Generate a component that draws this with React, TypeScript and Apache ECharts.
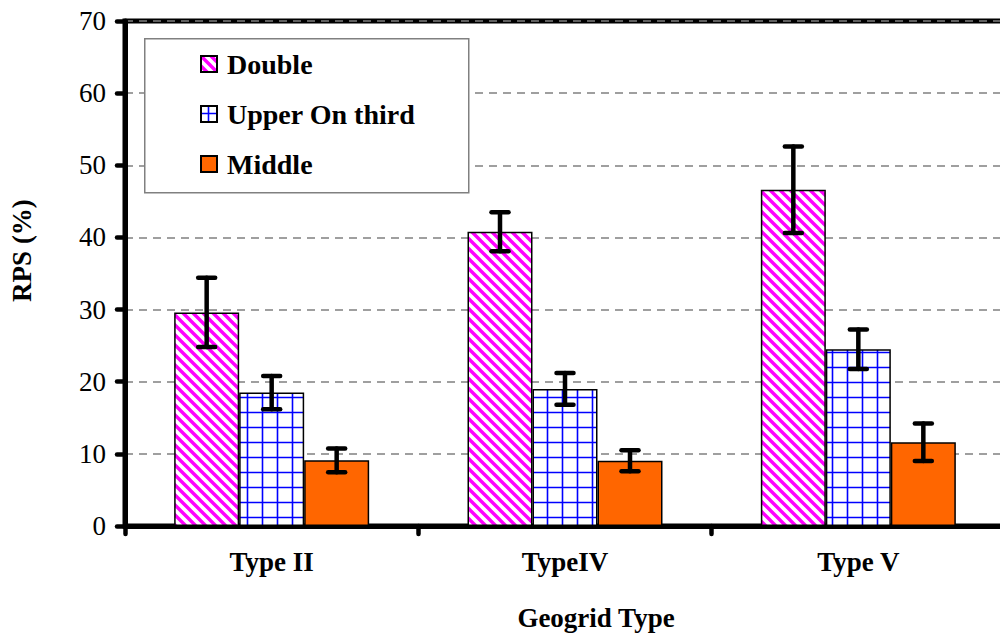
import React, { useEffect, useRef } from "react";
import * as echarts from "echarts";

const categories = ["Type II", "TypeIV", "Type V"];
const seriesNames = ["Double", "Upper On third", "Middle"];
const doubleVals = [29.6, 40.8, 46.6];
const doubleErr = [4.8, 2.7, 6.0];
const upperVals = [18.5, 19.0, 24.5];
const upperErr = [2.3, 2.2, 2.75];
const middleVals = [9.1, 9.05, 11.6];
const middleErr = [1.65, 1.45, 2.6];
const yTicks = [0, 10, 20, 30, 40, 50, 60, 70];

const FONT = "Liberation Serif";
const BAR_W = 65;

function svgUrl(svg: string) {
  return "data:image/svg+xml;charset=utf-8," + encodeURIComponent(svg);
}

const stripeSvg =
  "<svg xmlns='http://www.w3.org/2000/svg' width='10' height='10'>" +
  "<rect width='10' height='10' fill='#ffffff'/>" +
  "<path d='M-2,-2 L12,12 M8,-2 L12,2 M-2,8 L2,12' stroke='#FF00FF' stroke-width='3.4'/>" +
  "</svg>";

const gridSvg =
  "<svg xmlns='http://www.w3.org/2000/svg' width='15' height='15'>" +
  "<rect width='15' height='15' fill='#ffffff'/>" +
  "<path d='M0,7.5 H15 M7.5,0 V15' stroke='#0000FF' stroke-width='1.6'/>" +
  "</svg>";

export default function App() {
  const ref = useRef<HTMLDivElement>(null);

  useEffect(() => {
    if (!ref.current) return;
    const chart = echarts.init(ref.current, null, { renderer: "svg" });

    const stripePattern: any = {
      image: svgUrl(stripeSvg),
      repeat: "repeat",
      imageWidth: 10,
      imageHeight: 10,
    };
    const gridPattern: any = {
      image: svgUrl(gridSvg),
      repeat: "repeat",
      imageWidth: 15,
      imageHeight: 15,
    };

    const barColors: any[] = [stripePattern, gridPattern, "#FF6600"];
    const vals = [doubleVals, upperVals, middleVals];
    const errs = [doubleErr, upperErr, middleErr];

    const barSeries = seriesNames.map((name, k) => ({
      name,
      type: "bar",
      data: vals[k],
      barWidth: BAR_W,
      barGap: "0%",
      itemStyle: { color: barColors[k], borderColor: "#000", borderWidth: 1.5 },
      z: 2,
    }));

    const errSeries = seriesNames.map((name, k) => ({
      name: name + " error",
      type: "custom",
      z: 5,
      data: categories.map((_, i) => [i, vals[k][i], errs[k][i]]),
      encode: { x: 0, y: 1 },
      renderItem: (params: any, api: any) => {
        const ci = api.value(0);
        const v = api.value(1);
        const e = api.value(2);
        const x = api.coord([ci, v])[0] + (k - 1) * BAR_W;
        const yTop = api.coord([ci, v + e])[1];
        const yBot = api.coord([ci, v - e])[1];
        const st = { stroke: "#000", lineWidth: 4.5, lineCap: "round" };
        const hw = 8.5;
        return {
          type: "group",
          children: [
            { type: "line", shape: { x1: x, y1: yTop, x2: x, y2: yBot }, style: st },
            { type: "line", shape: { x1: x - hw, y1: yTop, x2: x + hw, y2: yTop }, style: st },
            { type: "line", shape: { x1: x - hw, y1: yBot, x2: x + hw, y2: yBot }, style: st },
          ],
        };
      },
    }));

    chart.setOption({
      animation: false,
      backgroundColor: "#ffffff",
      textStyle: { fontFamily: FONT },
      grid: {
        left: 125,
        top: 21,
        right: 7,
        bottom: 107,
        show: true,
        borderColor: "#000",
        borderWidth: 5,
        backgroundColor: "transparent",
      },
      legend: {
        data: seriesNames,
        orient: "vertical",
        left: 200,
        top: 50,
        padding: 0,
        itemWidth: 16,
        itemHeight: 16,
        itemGap: 22,
        icon: "rect",
        selectedMode: false,
        textStyle: {
          fontFamily: FONT,
          fontSize: 28,
          fontWeight: "bold",
          color: "#000",
          padding: [0, 0, 0, 5],
        },
      },
      graphic: [
        {
          type: "rect",
          left: 144,
          top: 38,
          z: 3,
          shape: { width: 324, height: 154 },
          style: { fill: "#ffffff", stroke: "#808080", lineWidth: 1.5 },
        },
      ],
      xAxis: {
        type: "category",
        data: categories,
        name: "Geogrid Type",
        nameLocation: "middle",
        nameGap: 78,
        nameTextStyle: {
          fontFamily: FONT,
          fontSize: 27,
          fontWeight: "bold",
          color: "#000",
          padding: [0, 0, 0, 62],
        },
        axisLine: { lineStyle: { color: "#000", width: 5 } },
        axisTick: { show: true, length: 8, lineStyle: { color: "#000", width: 4.5, cap: "round" } },
        axisLabel: {
          margin: 22,
          fontFamily: FONT,
          fontSize: 27,
          fontWeight: "bold",
          color: "#000",
        },
      },
      yAxis: {
        type: "value",
        min: yTicks[0],
        max: yTicks[yTicks.length - 1],
        interval: 10,
        name: "RPS (%)",
        nameLocation: "middle",
        nameGap: 90,
        nameTextStyle: {
          fontFamily: FONT,
          fontSize: 27,
          fontWeight: "bold",
          color: "#000",
          padding: [0, 0, 0, 46],
        },
        axisLine: { show: true, lineStyle: { color: "#000", width: 5 } },
        axisTick: { show: true, length: 8, lineStyle: { color: "#000", width: 4.5, cap: "round" } },
        axisLabel: {
          margin: 19,
          fontFamily: FONT,
          fontSize: 27,
          color: "#000",
        },
        splitLine: {
          show: true,
          lineStyle: { color: "#808080", width: 1.5, type: [8, 6] },
        },
      },
      series: [...barSeries, ...errSeries],
    });

    return () => chart.dispose();
  }, []);

  return (
    <div
      style={{
        position: "fixed",
        left: 0,
        top: 0,
        width: 1000,
        height: 636,
        overflow: "hidden",
        background: "#fff",
      }}
    >
      <div ref={ref} style={{ width: 1012, height: 636 }} />
    </div>
  );
}
